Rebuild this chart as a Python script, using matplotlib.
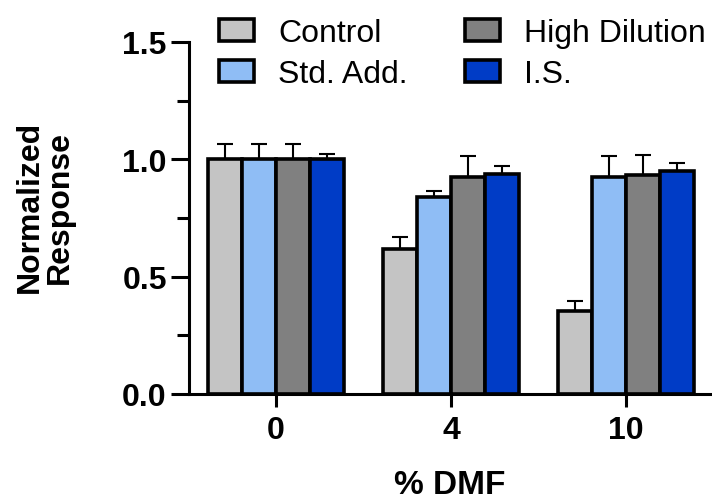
import matplotlib
matplotlib.use("Agg")
import matplotlib.pyplot as plt
import numpy as np

plt.rcParams['font.family'] = ['Liberation Sans', 'DejaVu Sans']

groups = ["0", "4", "10"]
series = ["Control", "Std. Add.", "High Dilution", "I.S."]
control = [1.0, 0.618, 0.355]
std_add = [1.0, 0.841, 0.926]
high_dil = [1.0, 0.926, 0.934]
i_s = [1.0, 0.937, 0.949]
control_err = [0.065, 0.05, 0.043]
std_add_err = [0.065, 0.023, 0.087]
high_dil_err = [0.065, 0.09, 0.083]
i_s_err = [0.022, 0.035, 0.034]

values = [control, std_add, high_dil, i_s]
errors = [control_err, std_add_err, high_dil_err, i_s_err]
colors = ["#c4c4c4", "#8fbdf5", "#808080", "#003cc6"]

fig = plt.figure(figsize=(7.12, 5.02), dpi=100)
ax = fig.add_axes([189/712, (502-395)/502, 1 - 189/712, (395-43)/502])

x = np.arange(len(groups))
w = 0.195
for i, (vals, errs, c, name) in enumerate(zip(values, errors, colors, series)):
    pos = x + (i - 1.5) * w
    ax.bar(pos, vals, width=w, color=c, edgecolor="black", linewidth=2.6,
           label=name, zorder=2)
    ax.errorbar(pos, vals, yerr=[np.zeros(len(errs)), errs], fmt="none",
                ecolor="black", elinewidth=1.5, capsize=6, capthick=1.5, zorder=1)

ax.set_xlim(-0.497, 2.49)
ax.set_ylim(0, 1.5)
ax.set_yticks([0, 0.5, 1.0, 1.5])
ax.set_yticklabels(["0.0", "0.5", "1.0", "1.5"])
ax.set_yticks([0.25, 0.75, 1.25], minor=True)
ax.set_xticks(x)
ax.set_xticklabels(groups)

for s in ["top", "right"]:
    ax.spines[s].set_visible(False)
for s in ["left", "bottom"]:
    ax.spines[s].set_linewidth(2.2)

ax.tick_params(axis="y", which="major", length=13, width=2.2, labelsize=23, pad=3)
ax.tick_params(axis="y", which="minor", length=8.5, width=2.2)
ax.tick_params(axis="x", which="major", length=9, width=2.2, labelsize=23, pad=6)
for lbl in ax.get_xticklabels() + ax.get_yticklabels():
    lbl.set_fontweight("bold")

fig.text(450/712, 1 - 486/502, "% DMF", fontsize=24, fontweight="bold",
         ha="center", va="center")
fig.text(45/712, 1 - 207/502, "Normalized\nResponse", rotation=90, fontsize=23,
         fontweight="bold", ha="center", va="center", linespacing=1.0)

handles, labels = ax.get_legend_handles_labels()
leg = fig.legend(handles, labels,
                 ncol=2, frameon=False, fontsize=23,
                 loc="upper left", bbox_to_anchor=(219/712, 1 - 19/502),
                 handlelength=1.1, handleheight=0.7, handletextpad=0.75,
                 columnspacing=1.8, labelspacing=0.35, borderaxespad=0, borderpad=0)

fig.savefig("out.png", dpi=100)
